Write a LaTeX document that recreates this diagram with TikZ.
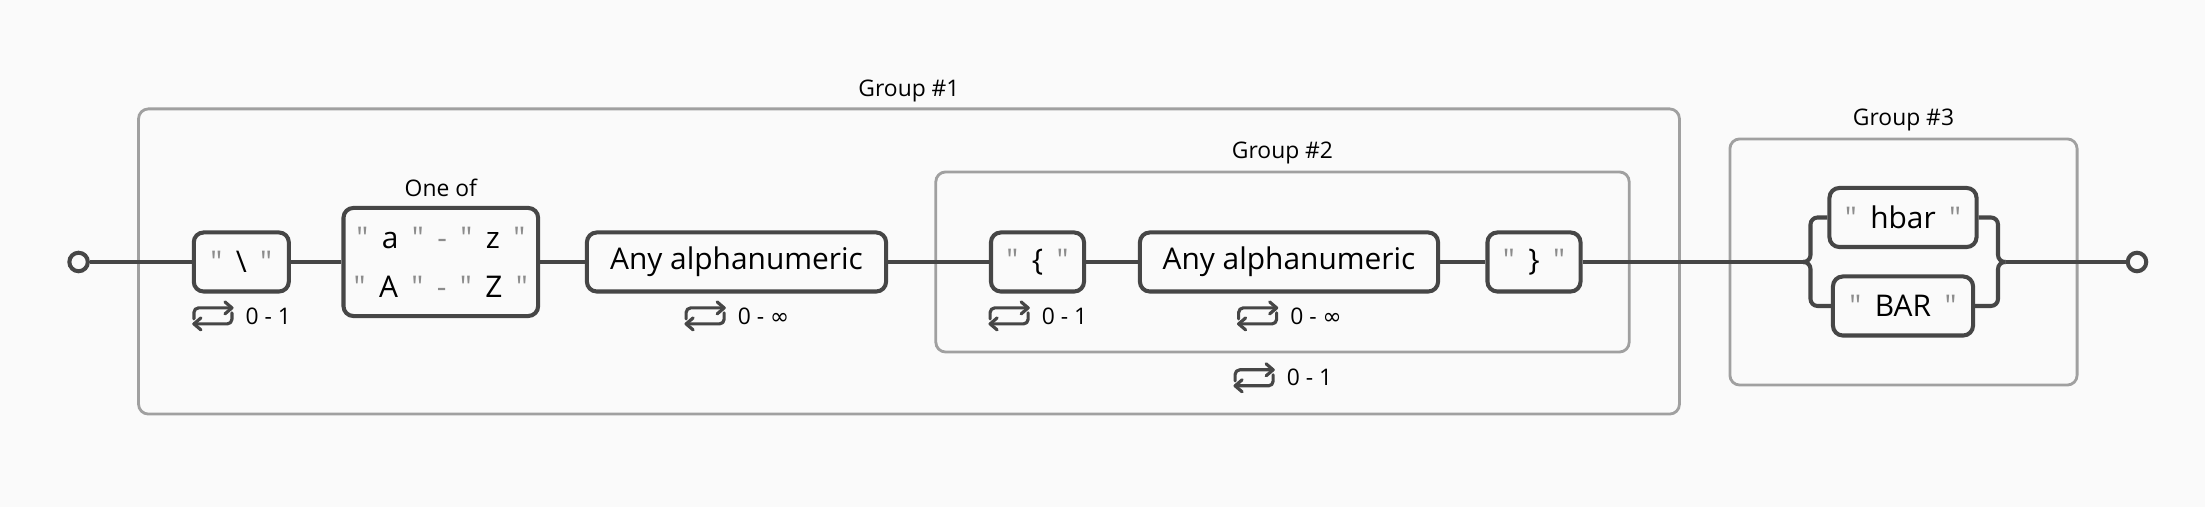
\documentclass[tikz,border=0pt]{standalone}
\usepackage{fontspec}
\setmainfont{Open Sans}[Ligatures=TeXOff]
\newfontfamily\symfont{DejaVu Sans}
\usetikzlibrary{positioning,calc}

\definecolor{railgray}{HTML}{464646}
\definecolor{groupgray}{HTML}{A0A0A0}
\definecolor{quotegray}{HTML}{8C8C8C}
\definecolor{bggray}{HTML}{FAFAFA}

\newcommand{\lit}[1]{{\color{quotegray}"}\hspace{0.45em}#1\hspace{0.45em}{\color{quotegray}"}}
\newcommand{\litdash}{\hspace{0.45em}{\color{quotegray}-}\hspace{0.45em}}
\newcommand{\infin}{{\symfont ∞}}

\tikzset{
    loopicon/.pic={
        \draw[icon, rounded corners=1.3pt] (-19,3) -- (-19,-8) -- (19,-8);
        \draw[icon] (12,-14) -- (19,-8) -- (12,-2);
        \draw[icon, rounded corners=1.3pt] (19,-3) -- (19,8) -- (-19,8);
        \draw[icon] (-12,2) -- (-19,8) -- (-12,14);
    }
}

\begin{document}
\begin{tikzpicture}[
    x=0.01cm, y=-0.01cm,
    rail/.style={draw=railgray, line width=1.15pt},
    icon/.style={draw=railgray, line width=0.9pt, line cap=round, line join=round},
    box/.style={draw=railgray, line width=1.15pt, rounded corners=2.8pt, fill=bggray,
        minimum height=0.59cm, inner sep=0pt, font=\fontsize{8.5}{14}\selectfont},
    group/.style={draw=groupgray, line width=0.8pt, rounded corners=2.8pt, inner sep=0pt},
    grouplabel/.style={font=\fontsize{6.5}{8}\selectfont, inner sep=0pt,
        text height=4.64pt, text depth=0pt},
    reptext/.style={font=\fontsize{6.5}{8}\selectfont, inner sep=0pt,
        text height=4.64pt, text depth=0pt},
    endpoint/.style={circle, draw=railgray, line width=1.15pt, fill=bggray,
        minimum size=0.185cm, inner sep=0pt}
]

% Background and size
\fill[bggray] (0,0) rectangle (2205,507);
\useasboundingbox (0,0) rectangle (2205,507);

% Define groups
\node[group, minimum width=15.40cm, minimum height=3.05cm] (g1) at (909,261.5) {};
\node[group, minimum width=6.93cm, minimum height=1.80cm] (g2) at (1282.5,262) {};
\node[group, minimum width=3.47cm, minimum height=2.46cm] (g3) at (1903.5,262) {};
\node[grouplabel, above=0.10cm of g1] (g1label) {Group \#1};
\node[grouplabel, above=0.11cm of g2] (g2label) {Group \#2};
\node[grouplabel, above=0.11cm of g3] (g3label) {Group \#3};

% Define nodes
\node[endpoint] (start) at (78.6,262) {};
\node[box, minimum width=0.95cm] (slash) at (241.3,262) {\lit{\textbackslash}};
\node[box, minimum width=1.945cm, minimum height=1.08cm, align=center] (oneof) at (440.8,262)
    {\lit{a}\litdash\lit{z}\\\lit{A}\litdash\lit{Z}};
\node[grouplabel, above=0.09cm of oneof] (oneoflabel) {One of};
\node[box, minimum width=2.99cm] (anyA) at (736.5,262) {Any alphanumeric};
\node[box, minimum width=0.93cm] (lbr) at (1037.5,262) {\lit{\{}};
\node[box, minimum width=2.98cm] (anyB) at (1289,262) {Any alphanumeric};
\node[box, minimum width=0.93cm] (rbr) at (1534,262) {\lit{\}}};
\node[box, minimum width=1.47cm] (hbar) at (1903,217.5) {\lit{hbar}};
\node[box, minimum width=1.40cm] (bar) at (1903,306) {\lit{BAR}};
\node[endpoint] (stop) at (2137,262) {};

\coordinate (split) at (1803,262);
\coordinate (bl) at (1810.5,262);
\coordinate (br) at (1998,262);
\coordinate (join) at (2005.5,262);

% Repeat counts
\node[reptext, below=0.135cm of slash, xshift=0.27cm] (slashrep) {0 - 1};
\node[reptext, below=0.135cm of anyA, xshift=0.27cm] (anyArep) {0 - \infin};
\node[reptext, below=0.135cm of lbr, xshift=0.27cm] (lbrrep) {0 - 1};
\node[reptext, below=0.135cm of anyB, xshift=0.27cm] (anyBrep) {0 - \infin};
\node[reptext, below=0.155cm of g2, xshift=0.27cm] (g2rep) {0 - 1};
\foreach \r in {slashrep, anyArep, lbrrep, anyBrep, g2rep}
    \pic at ($(\r.west)+(-32,0)$) {loopicon};

% Define edges
\draw[rail] (start) -- (slash);
\draw[rail] (slash) -- (oneof);
\draw[rail] (oneof) -- (anyA);
\draw[rail] (anyA) -- (lbr);
\draw[rail] (lbr) -- (anyB);
\draw[rail] (anyB) -- (rbr);
\draw[rail] (rbr) -- (split);
\draw[rail, rounded corners=2pt] (split) -- (bl) |- (hbar.west);
\draw[rail, rounded corners=2pt] (split) -- (bl) |- (bar.west);
\draw[rail, rounded corners=2pt] (hbar.east) -| (br) -- (join);
\draw[rail, rounded corners=2pt] (bar.east) -| (br) -- (join);
\draw[rail] (join) -- (stop);

\end{tikzpicture}
\end{document}
